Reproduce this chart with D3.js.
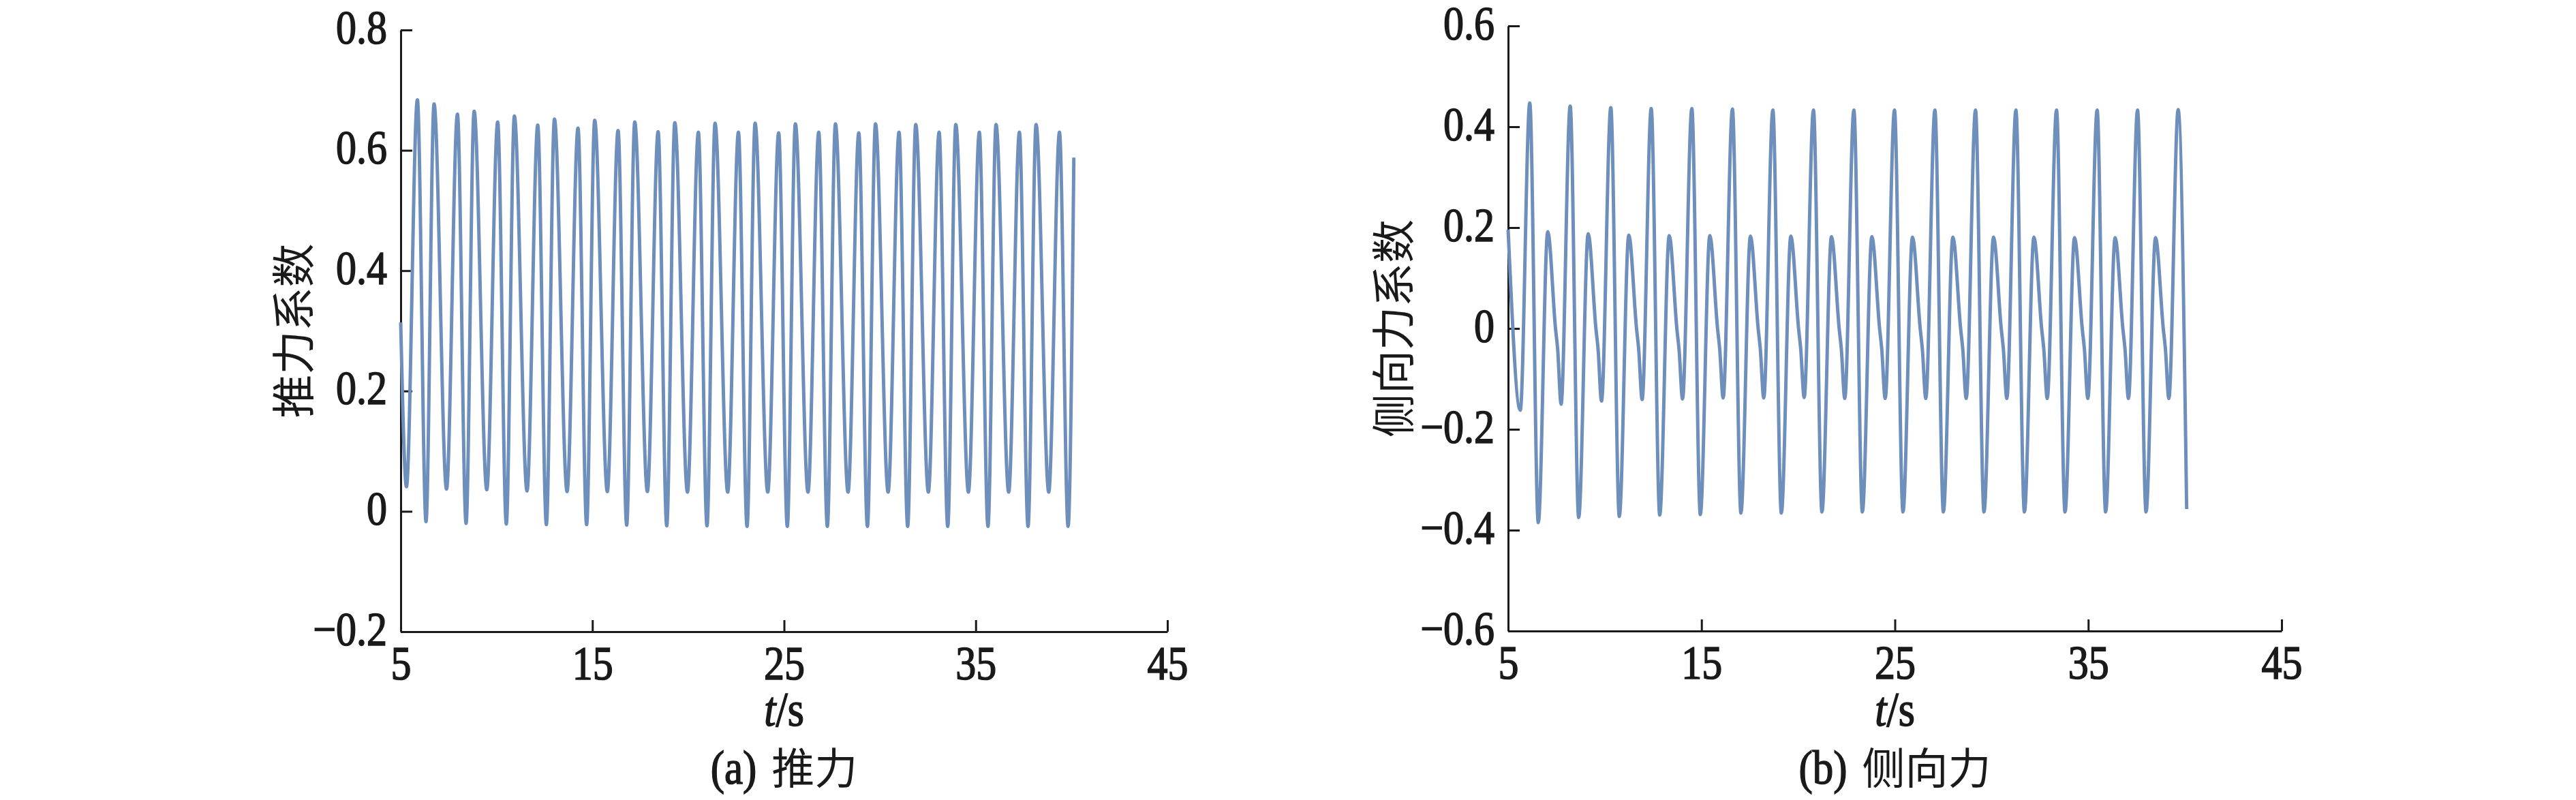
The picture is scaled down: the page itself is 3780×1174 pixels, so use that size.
<!DOCTYPE html>
<html>
<head>
<meta charset="utf-8">
<script src="https://cdn.jsdelivr.net/npm/d3@7"></script>
<style>
  body { margin: 0; background: #fff; }
  svg { display: block; }
  .latin { font-family: "Liberation Serif", "Tinos", "Times New Roman", serif; stroke: #1a1a1a; stroke-width: 1.4px; }
  .han { font-family: "Noto Sans CJK SC", "Noto Sans CJK JP", sans-serif; }
</style>
</head>
<body>
<svg id="chart" width="3780" height="1174"></svg>
<script>
// values (t in s, coefficient)
const xTicks = [5, 15, 25, 35, 45]
const thrustTicks = [-0.2, 0, 0.2, 0.4, 0.6, 0.8]
const lateralTicks = [-0.6, -0.4, -0.2, 0, 0.2, 0.4, 0.6]

const thrust = [
  [5.00, 0.314], [5.30, 0.041],
  [5.87, 0.684], [6.32, -0.017], [6.74, 0.677], [7.39, 0.037],
  [7.96, 0.660], [8.41, -0.020], [8.83, 0.665], [9.49, 0.036],
  [10.06, 0.647], [10.51, -0.021], [10.93, 0.657], [11.59, 0.034],
  [12.15, 0.642], [12.60, -0.022], [13.02, 0.652], [13.68, 0.033],
  [14.25, 0.637], [14.70, -0.022], [15.12, 0.650], [15.78, 0.033],
  [16.34, 0.633], [16.79, -0.023], [17.21, 0.647], [17.87, 0.033],
  [18.43, 0.631], [18.88, -0.024], [19.30, 0.646], [19.96, 0.032],
  [20.53, 0.630], [20.98, -0.024], [21.40, 0.645], [22.06, 0.032],
  [22.62, 0.630], [23.07, -0.025], [23.49, 0.645], [24.15, 0.032],
  [24.72, 0.629], [25.17, -0.025], [25.59, 0.644], [26.25, 0.032],
  [26.81, 0.630], [27.26, -0.025], [27.68, 0.644], [28.34, 0.032],
  [28.90, 0.629], [29.35, -0.025], [29.77, 0.644], [30.43, 0.032],
  [31.00, 0.630], [31.45, -0.025], [31.87, 0.643], [32.53, 0.032],
  [33.09, 0.630], [33.54, -0.025], [33.96, 0.643], [34.62, 0.032],
  [35.19, 0.630], [35.64, -0.025], [36.06, 0.643], [36.72, 0.032],
  [37.28, 0.630], [37.73, -0.025], [38.15, 0.643], [38.81, 0.032],
  [39.37, 0.630], [39.82, -0.025], [40.12, 0.588]
]

const lateral = [
  [5.00, 0.196], [5.63, -0.162],
  [6.12, 0.447], [6.56, -0.385], [7.05, 0.192], [7.45, 0.000], [7.56, -0.040], [7.74, -0.150],
  [8.21, 0.441], [8.65, -0.375], [9.14, 0.188], [9.54, 0.000], [9.65, -0.040], [9.83, -0.144],
  [10.31, 0.438], [10.75, -0.373], [11.24, 0.185], [11.64, 0.000], [11.75, -0.040], [11.93, -0.141],
  [12.40, 0.436], [12.84, -0.370], [13.33, 0.184], [13.73, -0.002], [13.84, -0.042], [14.02, -0.140],
  [14.50, 0.436], [14.94, -0.369], [15.43, 0.184], [15.83, 0.000], [15.94, -0.040], [16.12, -0.138],
  [16.60, 0.435], [17.04, -0.366], [17.53, 0.183], [17.93, 0.000], [18.04, -0.040], [18.22, -0.138],
  [18.69, 0.433], [19.13, -0.366], [19.62, 0.183], [20.02, 0.000], [20.13, -0.040], [20.31, -0.137],
  [20.79, 0.433], [21.23, -0.364], [21.72, 0.182], [22.12, 0.000], [22.23, -0.040], [22.41, -0.139],
  [22.88, 0.433], [23.32, -0.364], [23.81, 0.182], [24.21, 0.000], [24.32, -0.040], [24.50, -0.139],
  [24.98, 0.433], [25.42, -0.364], [25.91, 0.181], [26.31, 0.000], [26.42, -0.040], [26.60, -0.139],
  [27.07, 0.433], [27.51, -0.364], [28.00, 0.181], [28.40, 0.000], [28.51, -0.040], [28.69, -0.139],
  [29.17, 0.433], [29.61, -0.364], [30.10, 0.181], [30.50, 0.000], [30.61, -0.040], [30.79, -0.139],
  [31.26, 0.433], [31.70, -0.364], [32.19, 0.181], [32.59, 0.000], [32.70, -0.040], [32.88, -0.139],
  [33.36, 0.433], [33.80, -0.364], [34.29, 0.180], [34.69, 0.000], [34.80, -0.040], [34.98, -0.139],
  [35.46, 0.433], [35.90, -0.364], [36.39, 0.180], [36.79, 0.000], [36.90, -0.040], [37.08, -0.139],
  [37.55, 0.433], [37.99, -0.364], [38.48, 0.180], [38.88, 0.000], [38.99, -0.040], [39.17, -0.139],
  [39.65, 0.434], [40.09, -0.358]
]

const panels = [
  {data: thrust, yTicks: thrustTicks, yLabel: "推力系数", tag: "(a)", title: "推力",
   x0: 588, x1: 1713, yTop: 44, yBot: 927, labelX: 426},
  {data: lateral, yTicks: lateralTicks, yLabel: "侧向力系数", tag: "(b)", title: "侧向力",
   x0: 2213, x1: 3348, yTop: 38, yBot: 926, labelX: 2040}
]

const ink = "#1a1a1a"
const stretch = "scale(1,1.16)"
const fmt = d => d === 0 ? "0" : (d < 0 ? "\u2212" : "") + Math.abs(d).toFixed(1)

const svg = d3.select("#chart")

panels.forEach(p => {
  const x = d3.scaleLinear().domain([5, 45]).range([p.x0, p.x1])
  const y = d3.scaleLinear().domain(d3.extent(p.yTicks)).range([p.yBot, p.yTop])
  const g = svg.append("g")

  const xAxis = g.append("g")
    .attr("transform", `translate(0,${p.yBot})`)
    .call(d3.axisBottom(x).tickValues(xTicks).tickSizeInner(-17).tickSizeOuter(0).tickFormat(d3.format("d")))
  const yAxis = g.append("g")
    .attr("transform", `translate(${p.x0},0)`)
    .call(d3.axisLeft(y).tickValues(p.yTicks).tickSizeInner(-17).tickSizeOuter(0).tickFormat(fmt))

  ;[xAxis, yAxis].forEach(a => {
    a.attr("font-family", null).attr("font-size", null)
    a.select(".domain").attr("stroke", ink).attr("stroke-width", 3)
    a.selectAll(".tick line").attr("stroke", ink).attr("stroke-width", 3)
    a.selectAll(".tick text")
      .attr("class", "latin")
      .attr("x", 0).attr("y", 0).attr("dy", null)
      .attr("fill", ink)
      .style("font-size", "60px")
  })
  xAxis.selectAll(".tick text").attr("text-anchor", "middle").attr("transform", `translate(0,70) ${stretch}`)
  yAxis.selectAll(".tick text").attr("text-anchor", "end").attr("transform", `translate(-20,19) ${stretch}`)

  const line = d3.line()
    .x(d => x(d[0]))
    .y(d => y(d[1]))
    .curve(d3.curveMonotoneX)

  g.append("path")
    .datum(p.data)
    .attr("d", line)
    .attr("fill", "none")
    .attr("stroke", "#6e8fbb")
    .attr("stroke-width", 5)
    .attr("stroke-linejoin", "round")

  const cx = (p.x0 + p.x1) / 2

  // y label
  g.append("text")
    .attr("class", "han")
    .attr("transform", `translate(${p.labelX},${(p.yTop + p.yBot) / 2}) rotate(-90)`)
    .attr("text-anchor", "middle")
    .attr("dominant-baseline", "central")
    .attr("fill", ink)
    .style("font-size", "64px")
    .text(p.yLabel)

  // x label t/s
  const xl = g.append("text")
    .attr("class", "latin")
    .attr("transform", `translate(${cx},1065) ${stretch}`)
    .attr("text-anchor", "middle")
    .attr("fill", ink)
    .style("font-size", "62px")
  xl.append("tspan").style("font-style", "italic").text("t")
  xl.append("tspan").text("/s")

  // caption
  const cap = g.append("g")
  const tagText = cap.append("text")
    .attr("class", "latin")
    .attr("fill", ink)
    .style("font-size", "61px")
    .text(p.tag)
  const titleText = cap.append("text")
    .attr("class", "han")
    .attr("fill", ink)
    .style("font-size", "63px")
    .text(p.title)
  const wTag = tagText.node().getComputedTextLength()
  const wTitle = titleText.node().getComputedTextLength()
  const gap = 22
  const start = cx - (wTag + gap + wTitle) / 2
  tagText.attr("transform", `translate(${start},1150) ${stretch}`)
  titleText.attr("transform", `translate(${start + wTag + gap},1150)`)
})
</script>
</body>
</html>
